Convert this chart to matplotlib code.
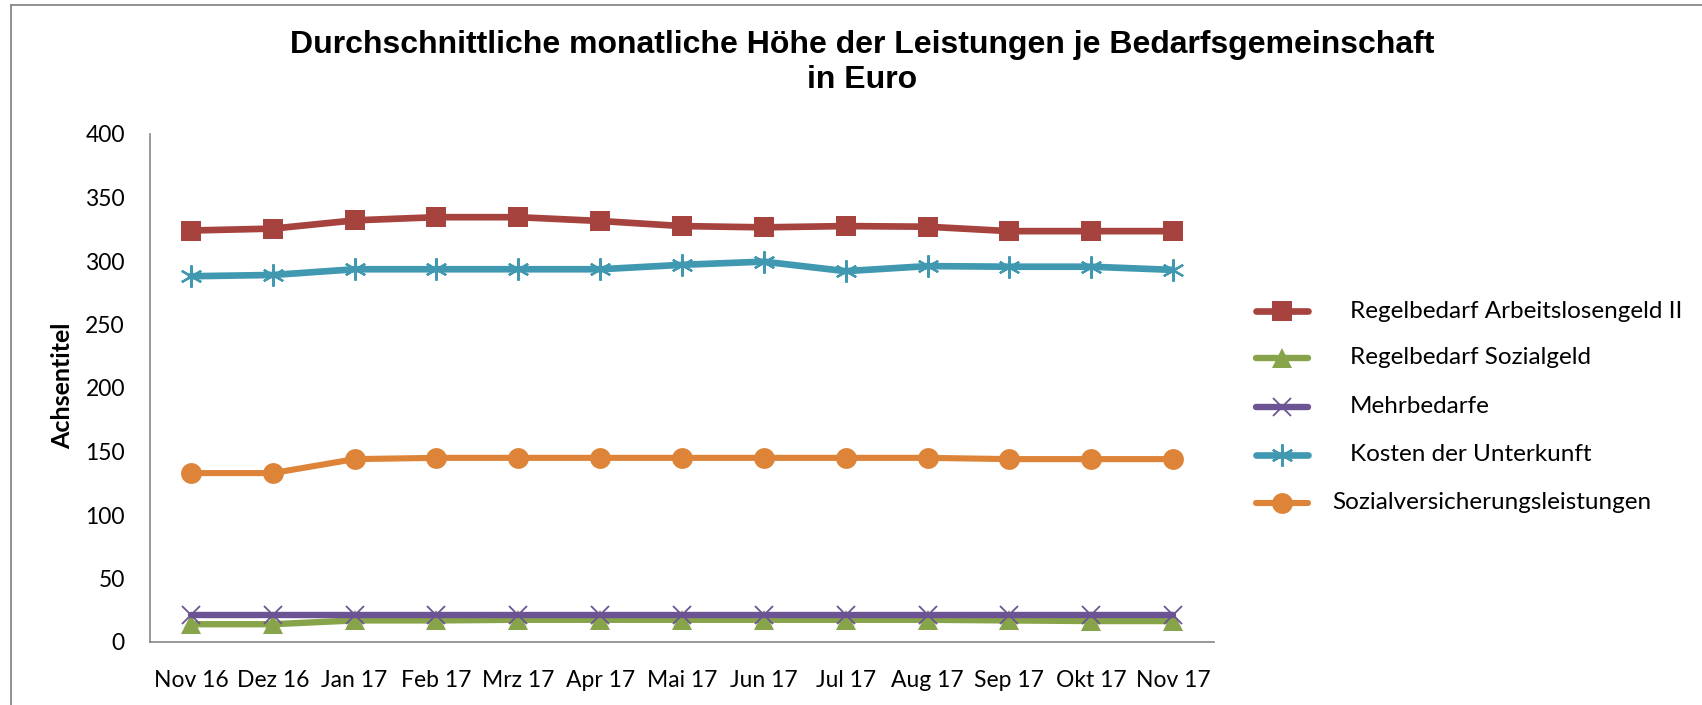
import matplotlib
matplotlib.use("Agg")
import matplotlib.pyplot as plt
from matplotlib.lines import Line2D

months = ["Nov 16", "Dez 16", "Jan 17", "Feb 17", "Mrz 17", "Apr 17", "Mai 17",
          "Jun 17", "Jul 17", "Aug 17", "Sep 17", "Okt 17", "Nov 17"]
regel_alg2 = [324, 325.5, 332, 334.5, 334.5, 331.5, 327.5, 326.5, 327.5, 327, 323.5, 323.5, 323.5]
regel_sozialgeld = [14, 14, 17, 17, 17.5, 17.5, 17.5, 17.5, 17.5, 17.5, 17, 16.5, 16.5]
mehrbedarfe = [21, 21, 21, 21, 21, 21, 21, 21, 21, 21, 21, 21, 21]
kdu = [288, 289, 293.5, 293.5, 293.5, 293.5, 297, 299.5, 292, 296, 295.5, 295.5, 293]
sv_leistungen = [133, 133, 144, 145, 145, 145, 145, 145, 145, 145, 144, 144, 144]

labels = ["Regelbedarf Arbeitslosengeld II", "Regelbedarf Sozialgeld",
          "Mehrbedarfe", "Kosten der Unterkunft", "Sozialversicherungsleistungen"]
yticks = [0, 50, 100, 150, 200, 250, 300, 350, 400]

W, H = 1702, 705
fig = plt.figure(figsize=(W / 100, H / 100), dpi=100)
ax = fig.add_axes([150 / W, (H - 642) / H, (1214 - 150) / W, (642 - 134) / H])

FONT = "Lato"
styles = [
    dict(color="#A6433F", marker="s", ms=14.5, mew=0, lw=4.8),
    dict(color="#88A44A", marker="^", ms=15, mew=0, lw=4.6),
    dict(color="#6C5494", marker="x", ms=13, mew=1.3, lw=4.6),
    dict(color="#4099B0", marker=(6, 2, 0), ms=16, mew=1.6, lw=4.8),
    dict(color="#DD8439", marker="o", ms=15, mew=0, lw=4.4),
]
series = [regel_alg2, regel_sozialgeld, mehrbedarfe, kdu, sv_leistungen]
x = list(range(len(months)))
for vals, st in zip(series, styles):
    ax.plot(x, vals, lw=st["lw"], color=st["color"], marker=st["marker"], ms=st["ms"],
            mew=st["mew"], mec=st["color"], mfc=st["color"], solid_capstyle="round",
            solid_joinstyle="round")

ax.set_xlim(-0.5, len(months) - 0.5)
ax.set_ylim(0, 400)
ax.set_yticks(yticks)
ax.set_xticks(x)
ax.set_xticklabels(months, fontfamily=FONT, fontsize=16.5)
ax.set_yticklabels([str(v) for v in yticks], fontfamily=FONT, fontsize=16.5)
ax.tick_params(axis="both", length=0)
ax.tick_params(axis="y", pad=18)
ax.tick_params(axis="x", pad=20)
for s in ["top", "right"]:
    ax.spines[s].set_visible(False)
for s in ["left", "bottom"]:
    ax.spines[s].set_color("#868686")
    ax.spines[s].set_linewidth(1.2)

fig.text(63 / W, 1 - 386 / H, "Achsentitel", rotation=90, ha="center", va="center",
         fontfamily=FONT, fontweight="bold", fontsize=18)

fig.text(862 / W, 1 - 45 / H, "Durchschnittliche monatliche Höhe der Leistungen je Bedarfsgemeinschaft",
         ha="center", va="center", fontfamily="Liberation Sans", fontweight="bold", fontsize=23)
fig.text(862 / W, 1 - 80 / H, "in Euro",
         ha="center", va="center", fontfamily="Liberation Sans", fontweight="bold", fontsize=23)

# legend (manual)
leg_y = [311, 358, 406.5, 454.5, 502.5]
leg_tx = [1350, 1350, 1350, 1350, 1332]
for lab, st, yy, tx in zip(labels, styles, leg_y, leg_tx):
    yf = 1 - yy / H
    fig.add_artist(Line2D([1256 / W, 1308 / W], [yf, yf], transform=fig.transFigure,
                          lw=st["lw"], color=st["color"], solid_capstyle="round"))
    fig.add_artist(Line2D([1282 / W], [yf], transform=fig.transFigure, lw=0,
                          marker=st["marker"], ms=st["ms"], mew=st["mew"],
                          mec=st["color"], mfc=st["color"]))
    fig.text(tx / W, yf, lab, ha="left", va="center", fontfamily=FONT, fontsize=17.5)

# chart frame
fig.add_artist(Line2D([11 / W, 11 / W], [0, 1 - 5 / H], transform=fig.transFigure,
                      lw=1.3, color="#888888"))
fig.add_artist(Line2D([11 / W, 1], [1 - 5 / H, 1 - 5 / H], transform=fig.transFigure,
                      lw=1.3, color="#888888"))

fig.savefig("out.png", dpi=100, facecolor="white")
